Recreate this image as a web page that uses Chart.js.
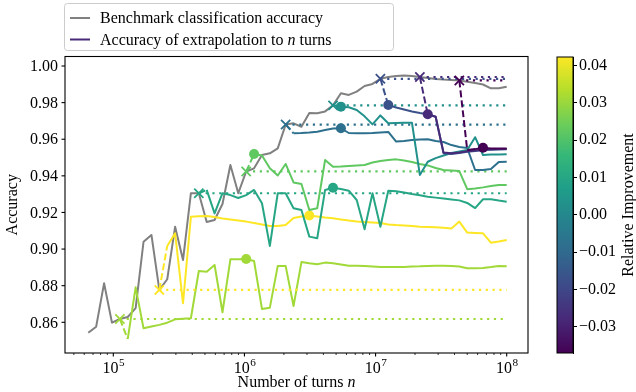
<!DOCTYPE html>
<html><head><meta charset="utf-8">
<script src="https://cdn.jsdelivr.net/npm/chart.js@4/dist/chart.umd.min.js"></script>
<style>
html,body{margin:0;padding:0;background:#fff;}
#wrap{position:relative;width:636px;height:392px;overflow:hidden;background:#fff;}
#main{position:absolute;left:0;top:0;}
#cbar{position:absolute;left:556px;top:0;}
</style></head><body>
<div id="wrap"><canvas id="main" width="636" height="392"></canvas><canvas id="cbar" width="80" height="392"></canvas></div>
<script>
// ---------- data ----------
const turns = [64429, 74010, 85015, 97656, 112178, 128858, 148019, 170029, 195313, 224355,
  257717, 296038, 340059, 390625, 448710, 515433, 592077, 680118, 781250, 897421,
  1030866, 1184154, 1360235, 1562500, 1794841, 2061731, 2368307, 2720470, 3125000, 3589682,
  4123462, 4736614, 5440941, 6250000, 7179365, 8246924, 9473229, 10881882, 12500000, 14358729,
  16493849, 18946457, 21763764, 25000000, 28717459, 32987698, 37892914, 43527528, 50000000, 57434918,
  65975396, 75785828, 87055056, 100000000];

const benchmarkAcc = [0.8543, 0.8576, 0.8813, 0.8598, 0.8618, 0.8629, 0.8677, 0.9040, 0.9077, 0.8777,
  0.8835, 0.9122, 0.8940, 0.9305, 0.9305, 0.9148, 0.9159, 0.9246, 0.9459, 0.9305,
  0.9424, 0.9441, 0.9514, 0.9523, 0.9550, 0.9680, 0.9687, 0.9668, 0.9743, 0.9742,
  0.9752, 0.9785, 0.9851, 0.9842, 0.9860, 0.9891, 0.9902, 0.9930, 0.9940, 0.9945,
  0.9948, 0.9945, 0.9940, 0.9934, 0.9929, 0.9926, 0.9924, 0.9921, 0.9914, 0.9907,
  0.9899, 0.9878, 0.9878, 0.9887];

// index (into turns) where each extrapolation starts, and where its round marker sits
const originIdx = [4, 9, 14, 20, 25, 31, 37, 42, 47];
const markerIdx = [20, 28, 31, 21, 32, 32, 38, 43, 50];
const relImprovement = [0.031, 0.0423, 0.010, 0.0225, -0.0077, 0.0027, -0.0172, -0.0275, -0.037];

// extrapolated accuracy, from the point after the origin to the last n
const extrap1 = [0.8509, 0.8791, 0.8567, 0.8577, 0.8586, 0.8598, 0.8616, 0.8619, 0.8622, 0.8880,
  0.8876, 0.8913, 0.8655, 0.8944, 0.8944, 0.8946, 0.8935, 0.8673, 0.8680, 0.8908,
  0.8908, 0.8689, 0.8929, 0.8922, 0.8917, 0.8926, 0.8922, 0.8916, 0.8909, 0.8909,
  0.8908, 0.8905, 0.8902, 0.8902, 0.8902, 0.8902, 0.8905, 0.8906, 0.8908, 0.8909,
  0.8909, 0.8908, 0.8905, 0.8895, 0.8895, 0.8897, 0.8902, 0.8908, 0.8906];
const extrap2 = [0.9017, 0.9086, 0.8704, 0.9177, 0.9179, 0.9181, 0.9175, 0.9167, 0.9162, 0.9156,
  0.9150, 0.9142, 0.9134, 0.9126, 0.9126, 0.9131, 0.9170, 0.9178, 0.9183, 0.9178,
  0.9172, 0.9168, 0.9162, 0.9156, 0.9151, 0.9148, 0.9145, 0.9142, 0.9134, 0.9131,
  0.9129, 0.9126, 0.9122, 0.9121, 0.9119, 0.9116, 0.9113, 0.9150, 0.9090, 0.9088,
  0.9086, 0.9035, 0.9041, 0.9050];
const extrap3 = [0.9323, 0.9195, 0.9305, 0.9295, 0.9279, 0.9295, 0.9323, 0.9250, 0.9017, 0.9305,
  0.9305, 0.9223, 0.9213, 0.9068, 0.9059, 0.9323, 0.9335, 0.9328, 0.9319, 0.9268,
  0.9108, 0.9305, 0.9122, 0.9319, 0.9316, 0.9309, 0.9301, 0.9294, 0.9286, 0.9281,
  0.9276, 0.9271, 0.9266, 0.9252, 0.9224, 0.9272, 0.9272, 0.9265, 0.9259];
const extrap4 = [0.9519, 0.9511, 0.9441, 0.9402, 0.9465, 0.9364, 0.9355, 0.9213, 0.9223, 0.9487,
  0.9450, 0.9451, 0.9454, 0.9457, 0.9459, 0.9473, 0.9481, 0.9487, 0.9490, 0.9484,
  0.9476, 0.9465, 0.9457, 0.9443, 0.9432, 0.9429, 0.9426, 0.9327, 0.9331, 0.9337,
  0.9345, 0.9350, 0.9350];
const extrap5 = [0.9632, 0.9634, 0.9637, 0.9641, 0.9650, 0.9659, 0.9660, 0.9634, 0.9632, 0.9632,
  0.9634, 0.9637, 0.9640, 0.9587, 0.9590, 0.9596, 0.9599, 0.9600, 0.9590, 0.9585,
  0.9568, 0.9558, 0.9552, 0.9432, 0.9432, 0.9437, 0.9476, 0.9477];
const extrap6 = [0.9778, 0.9775, 0.9760, 0.9725, 0.9681, 0.9730, 0.9687, 0.9689, 0.9690, 0.9690,
  0.9405, 0.9477, 0.9497, 0.9511, 0.9525, 0.9533, 0.9541, 0.9611, 0.9514, 0.9516,
  0.9517, 0.9518];
const extrap7 = [0.9787, 0.9773, 0.9762, 0.9751, 0.9743, 0.9736, 0.9723, 0.9523, 0.9519, 0.9525,
  0.9532, 0.9536, 0.9541, 0.9543, 0.9544, 0.9545];
const extrap8 = [0.9736, 0.9723, 0.9527, 0.9523, 0.9528, 0.9534, 0.9538, 0.9542, 0.9545, 0.9546, 0.9547];
const extrap9 = [0.9541, 0.9546, 0.9553, 0.9550, 0.9549, 0.9549];

const accuracyTicks = [0.86, 0.88, 0.90, 0.92, 0.94, 0.96, 0.98, 1.00];
const turnTickExps = [5, 6, 7, 8];
const cbarMin = -0.037, cbarMax = 0.0423;
const legendLabels = ['Benchmark classification accuracy', 'Accuracy of extrapolation to ', 'n', ' turns'];

// ---------- colours ----------
const viridisStops = ['#440154','#482878','#3e4989','#31688e','#26828e','#1f9e89','#35b779','#6ece58','#b5de2b','#fde725'];
function hexToRgb(h){return [parseInt(h.slice(1,3),16),parseInt(h.slice(3,5),16),parseInt(h.slice(5,7),16)];}
function viridis(t){
  t = Math.max(0, Math.min(1, t));
  const p = t*(viridisStops.length-1);
  const i = Math.min(Math.floor(p), viridisStops.length-2);
  const f = p-i, a = hexToRgb(viridisStops[i]), b = hexToRgb(viridisStops[i+1]);
  return 'rgb(' + a.map((v,k)=>Math.round(v+(b[k]-v)*f)).join(',') + ')';
}
const colorFor = v => viridis((v-cbarMin)/(cbarMax-cbarMin));

const FONT = '"Liberation Serif", "Times New Roman", serif';
const FS = 16;

// ---------- datasets ----------
const extrapSeries = [extrap1, extrap2, extrap3, extrap4, extrap5, extrap6, extrap7, extrap8, extrap9];
const datasets = [{
  data: turns.map((n,i)=>({x:n, y:benchmarkAcc[i]})),
  borderColor:'#808080', borderWidth:2, pointRadius:0, borderJoinStyle:'round', order:100
}];
extrapSeries.forEach((vals, s) => {
  const o = originIdx[s];
  const col = colorFor(relImprovement[s]);
  const y0 = benchmarkAcc[o];
  datasets.push({
    data:[{x:turns[o], y:y0}, {x:turns[turns.length-1], y:y0}],
    borderColor:col, borderWidth:2.2, borderDash:[2.2,4.6], borderCapStyle:'butt',
    pointRadius:0, order:90-3*s
  });
  const pts = [{x:turns[o], y:y0}].concat(vals.map((v,j)=>({x:turns[o+1+j], y:v})));
  const mk = markerIdx[s]-o;
  datasets.push({
    data:pts, borderColor:col, backgroundColor:col, borderWidth:2, borderJoinStyle:'round',
    order:89-3*s,
    segment:{borderDash: c => c.p0DataIndex===0 ? [7,3] : undefined},
    pointStyle: c => c.dataIndex===0 ? 'crossRot' : 'circle',
    pointRadius: c => c.dataIndex===0 ? 6.5 : (c.dataIndex===mk ? 5 : 0),
    pointBorderWidth: c => c.dataIndex===0 ? 1.8 : 0,
    pointBackgroundColor:col, pointBorderColor:col, pointHoverRadius:0
  });
});

// ---------- decorations (frame, ticks, labels, legend) ----------
const mainDecor = {
  id:'mainDecor',
  afterDraw(chart){
    const {ctx, chartArea:a} = chart;
    const xs = chart.scales.x, ys = chart.scales.y;
    ctx.save();
    ctx.strokeStyle = '#000'; ctx.fillStyle = '#000';
    ctx.lineWidth = 1.1;
    ctx.strokeRect(a.left, a.top, a.right-a.left, a.bottom-a.top);
    // y ticks
    ctx.font = FS+'px '+FONT; ctx.textAlign='right'; ctx.textBaseline='middle';
    accuracyTicks.forEach(v => {
      const py = ys.getPixelForValue(v);
      ctx.beginPath(); ctx.moveTo(a.left-3.5, py); ctx.lineTo(a.left, py); ctx.stroke();
      ctx.fillText(v.toFixed(2), a.left-7, py+1);
    });
    // x ticks (major + minor)
    for (let e=4; e<=8; e++) for (let m=1; m<=9; m++) {
      const v = m*Math.pow(10,e);
      if (v < xs.min || v > xs.max) continue;
      const px = xs.getPixelForValue(v);
      ctx.lineWidth = m===1 ? 1.1 : 0.8;
      ctx.beginPath(); ctx.moveTo(px, a.bottom); ctx.lineTo(px, a.bottom+(m===1?3.5:2)); ctx.stroke();
    }
    ctx.textAlign='left'; ctx.textBaseline='alphabetic';
    turnTickExps.forEach(e => {
      const px = xs.getPixelForValue(Math.pow(10,e));
      ctx.font = FS+'px '+FONT; const w1 = ctx.measureText('10').width;
      ctx.font = (FS*0.7)+'px '+FONT; const w2 = ctx.measureText(String(e)).width;
      const x0 = px-(w1+w2)/2;
      ctx.font = FS+'px '+FONT; ctx.fillText('10', x0, a.bottom+19.5);
      ctx.font = (FS*0.7)+'px '+FONT; ctx.fillText(String(e), x0+w1+0.5, a.bottom+12.5);
    });
    // x title
    ctx.font = FS+'px '+FONT;
    const t1 = 'Number of turns ';
    const w1 = ctx.measureText(t1).width;
    ctx.font = 'italic '+FS+'px '+FONT;
    const w2 = ctx.measureText('n').width;
    const cx = (a.left+a.right)/2, tx = cx-(w1+w2)/2;
    ctx.font = FS+'px '+FONT; ctx.fillText(t1, tx, 386.5);
    ctx.font = 'italic '+FS+'px '+FONT; ctx.fillText('n', tx+w1, 386.5);
    // y title
    ctx.save();
    ctx.translate(13, (a.top+a.bottom)/2); ctx.rotate(-Math.PI/2);
    ctx.font = FS+'px '+FONT; ctx.textAlign='center'; ctx.textBaseline='middle';
    ctx.fillText('Accuracy', 0, 0);
    ctx.restore();
    // legend
    ctx.beginPath();
    ctx.roundRect(64.5, 3.5, 329, 47, 3);
    ctx.fillStyle='rgba(255,255,255,0.85)'; ctx.fill();
    ctx.strokeStyle='#cccccc'; ctx.lineWidth=1; ctx.stroke();
    ctx.lineWidth = 2;
    ctx.strokeStyle='#808080';
    ctx.beginPath(); ctx.moveTo(70,18); ctx.lineTo(90,18); ctx.stroke();
    ctx.strokeStyle=viridis(0.12);
    ctx.beginPath(); ctx.moveTo(70,39.5); ctx.lineTo(90,39.5); ctx.stroke();
    ctx.fillStyle='#000'; ctx.textAlign='left'; ctx.textBaseline='alphabetic';
    ctx.font = FS+'px '+FONT;
    ctx.fillText(legendLabels[0], 100, 23);
    let lx = 100;
    ctx.fillText(legendLabels[1], lx, 44.5); lx += ctx.measureText(legendLabels[1]).width;
    ctx.font = 'italic '+FS+'px '+FONT; ctx.fillText(legendLabels[2], lx, 44.5); lx += ctx.measureText(legendLabels[2]).width;
    ctx.font = FS+'px '+FONT; ctx.fillText(legendLabels[3], lx, 44.5);
    ctx.restore();
  }
};

new Chart(document.getElementById('main'), {
  type:'line',
  data:{datasets},
  options:{
    responsive:false, animation:false, events:[],
    layout:{padding:{top:56.5, right:108, left:0, bottom:0}},
    plugins:{legend:{display:false}, tooltip:{enabled:false}},
    scales:{
      x:{type:'logarithmic', min:42810, max:1.4537e8,
         grid:{display:false}, ticks:{display:false}, border:{display:false},
         afterFit(s){ s.height = 39; }},
      y:{type:'linear', min:0.84323, max:1.00519,
         grid:{display:false}, ticks:{display:false}, border:{display:false},
         afterFit(s){ s.width = 65; }}
    }
  },
  plugins:[mainDecor]
});

// ---------- colour bar ----------
const cbarDecor = {
  id:'cbarDecor',
  afterDraw(chart){
    const {ctx, chartArea:a} = chart;
    ctx.save();
    ctx.strokeStyle='#000'; ctx.lineWidth=1;
    ctx.strokeRect(a.left, a.top, a.right-a.left, a.bottom-a.top);
    ctx.translate(72.5, (a.top+a.bottom)/2); ctx.rotate(-Math.PI/2);
    ctx.font = FS+'px '+FONT; ctx.fillStyle='#000'; ctx.textAlign='center'; ctx.textBaseline='middle';
    ctx.fillText('Relative Improvement', 0, 0);
    ctx.restore();
  }
};
new Chart(document.getElementById('cbar'), {
  type:'bar',
  data:{labels:['r'], datasets:[{
    data:[[cbarMin, cbarMax]],
    backgroundColor: c => {
      const a = c.chart.chartArea;
      if (!a) return viridis(0.5);
      const g = c.chart.ctx.createLinearGradient(0, a.bottom, 0, a.top);
      viridisStops.forEach((h,i)=>g.addColorStop(i/(viridisStops.length-1), h));
      return g;
    },
    barPercentage:1, categoryPercentage:1, borderWidth:0, borderSkipped:false
  }]},
  options:{
    responsive:false, animation:false, events:[],
    layout:{padding:{top:57, bottom:39, left:1, right:0}},
    plugins:{legend:{display:false}, tooltip:{enabled:false}},
    scales:{
      x:{display:false},
      y:{position:'right', min:cbarMin, max:cbarMax,
         ticks:{stepSize:0.01, includeBounds:false, color:'#000', padding:2,
                font:{family:FONT, size:FS},
                callback: v => (v < -1e-9 ? '\u2212' : '') + Math.abs(v).toFixed(2)},
         grid:{drawOnChartArea:false, drawTicks:true, tickLength:4, tickColor:'#000', tickWidth:1},
         border:{display:true, color:'#000', width:1},
         afterFit(s){ s.width = 63; }}
    }
  },
  plugins:[cbarDecor]
});
</script>
</body></html>
